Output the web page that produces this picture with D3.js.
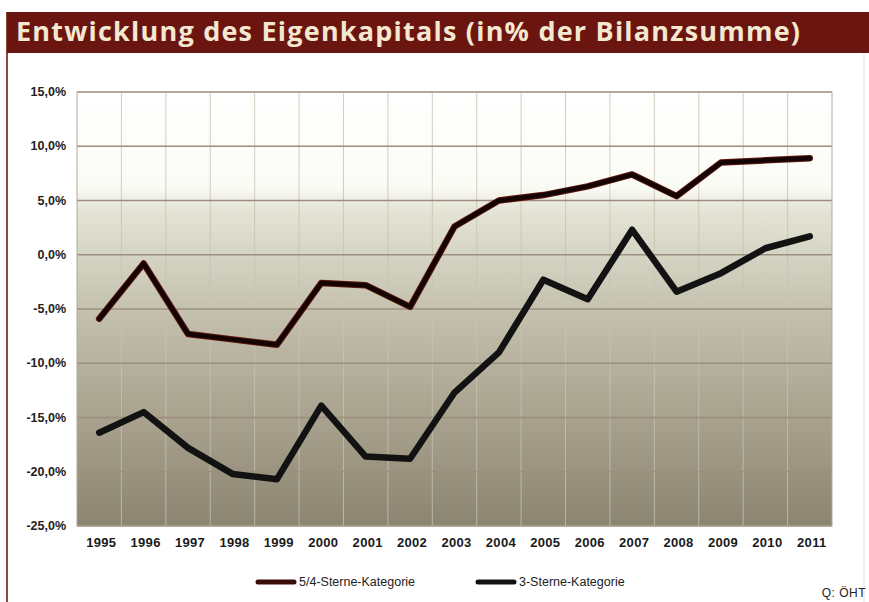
<!DOCTYPE html>
<head>
  <meta charset="utf-8">
  <script src="https://d3js.org/d3.v7.min.js"></script>
  <style>
    body { margin: 0; background: #fff; }
    text { font-family: "Liberation Sans", Arial, sans-serif; }
  </style>
</head>
<body>
<div id="chart"></div>
<script>

// data
var years = ["1995","1996","1997","1998","1999","2000","2001","2002","2003",
             "2004","2005","2006","2007","2008","2009","2010","2011"];
var sterne54 = [-5.9, -0.8, -7.3, -7.8, -8.3, -2.6, -2.8, -4.8, 2.6,
                5.0, 5.5, 6.3, 7.4, 5.4, 8.5, 8.7, 8.9];
var sterne3 = [-16.4, -14.5, -17.8, -20.2, -20.7, -13.9, -18.6, -18.8, -12.7,
               -9.0, -2.3, -4.1, 2.3, -3.4, -1.7, 0.6, 1.7];
var yTicks = [15, 10, 5, 0, -5, -10, -15, -20, -25];
var seriesNames = ["5/4-Sterne-Kategorie", "3-Sterne-Kategorie"];

var W = 869, H = 602;
var margin = {top: 92, right: 37, bottom: 76, left: 77},
    width = W - margin.left - margin.right,
    height = H - margin.top - margin.bottom;

var svg = d3.select("#chart")
  .append("svg")
    .attr("width", W)
    .attr("height", H);

// frame and title bar
svg.append("line")
  .attr("x1", 7).attr("x2", 7).attr("y1", 12).attr("y2", H)
  .style("stroke", "#8a4a35").style("stroke-width", 2);
svg.append("line")
  .attr("x1", 864).attr("x2", 864).attr("y1", 52).attr("y2", H)
  .style("stroke", "#e8ddd0").style("stroke-width", 1);
svg.append("rect")
  .attr("x", 7).attr("y", 12).attr("width", W - 7).attr("height", 41)
  .style("fill", "#6b1510");
svg.append("text")
  .attr("x", 16).attr("y", 41)
  .attr("textLength", 784).attr("lengthAdjust", "spacing")
  .style("font-family", "'Open Sans', sans-serif")
  .style("font-weight", "bold")
  .style("font-size", "27px")
  .style("fill", "#f4e8d0")
  .text("Entwicklung des Eigenkapitals (in% der Bilanzsumme)");

var g = svg.append("g")
  .attr("transform", "translate(" + margin.left + "," + margin.top + ")");

// background gradient
var grad = svg.append("defs").append("linearGradient")
  .attr("id", "bg").attr("x1", 0).attr("x2", 0).attr("y1", 0).attr("y2", 1);
[[0, "#ffffff"], [0.22, "#fbfbf6"], [0.27, "#e4e5d7"], [0.5, "#c4c1ae"],
 [0.75, "#a8a28e"], [1, "#8b8470"]].forEach(function(s) {
  grad.append("stop").attr("offset", s[0]).attr("stop-color", s[1]);
});
g.append("rect")
  .attr("width", width).attr("height", height)
  .style("fill", "url(#bg)");

var x = d3.scaleBand().domain(years).range([0, width]);
var y = d3.scaleLinear().domain([-25, 15]).range([height, 0]);

// vertical grid
g.append("g")
  .selectAll("line")
  .data(years.slice(1))
  .enter()
  .append("line")
    .attr("x1", function(d) { return x(d); })
    .attr("x2", function(d) { return x(d); })
    .attr("y1", 0).attr("y2", height)
    .style("stroke", "#c9c3b3")
    .style("stroke-width", 1)
    .style("opacity", 0.8);

// horizontal grid
g.append("g")
  .selectAll("line")
  .data(yTicks)
  .enter()
  .append("line")
    .attr("x1", 0).attr("x2", width)
    .attr("y1", function(d) { return y(d); })
    .attr("y2", function(d) { return y(d); })
    .style("stroke", "#9c8f7d")
    .style("stroke-width", 1.5);

g.append("rect")
  .attr("width", width).attr("height", height)
  .style("fill", "none").style("stroke", "#b0aa9a").style("stroke-width", 1);

// y axis labels
var fmt = function(d) { return d3.format(".1f")(d).replace(".", ",").replace("−", "-") + "%"; };
g.append("g")
  .selectAll("text")
  .data(yTicks)
  .enter()
  .append("text")
    .attr("x", -11)
    .attr("y", function(d) { return y(d) + 4; })
    .attr("text-anchor", "end")
    .style("font-size", "12.5px")
    .style("font-weight", "bold")
    .style("fill", "#222")
    .text(fmt);

// x axis labels
g.append("g")
  .selectAll("text")
  .data(years)
  .enter()
  .append("text")
    .attr("x", function(d) { return x(d) + x.bandwidth() / 2 + 2; })
    .attr("y", height + 21)
    .attr("text-anchor", "middle")
    .style("font-size", "13px")
    .style("font-weight", "bold")
    .style("letter-spacing", "0.3px")
    .style("fill", "#1a1a1a")
    .text(function(d) { return d; });

// lines
var line = d3.line()
  .x(function(d, i) { return x(years[i]) + x.bandwidth() / 2; })
  .y(function(d) { return y(d); });

g.append("path")
  .datum(sterne54)
  .attr("d", line)
  .style("fill", "none")
  .style("stroke", "#5a150c")
  .style("stroke-width", 6.5)
  .style("stroke-linejoin", "round")
  .style("stroke-linecap", "round");
g.append("path")
  .datum(sterne54)
  .attr("d", line)
  .style("fill", "none")
  .style("stroke", "#140403")
  .style("stroke-width", 4.5)
  .style("stroke-linejoin", "round")
  .style("stroke-linecap", "round");

g.append("path")
  .datum(sterne3)
  .attr("d", line)
  .style("fill", "none")
  .style("stroke", "#121212")
  .style("stroke-width", 6.5)
  .style("stroke-linejoin", "round")
  .style("stroke-linecap", "round");

// legend
var legend = svg.append("g");
var legX = [258, 478], legColors = ["#3a0c06", "#121212"];
seriesNames.forEach(function(name, i) {
  legend.append("line")
    .attr("x1", legX[i]).attr("x2", legX[i] + 36)
    .attr("y1", 582).attr("y2", 582)
    .style("stroke", legColors[i])
    .style("stroke-width", 5)
    .style("stroke-linecap", "round");
  legend.append("text")
    .attr("x", legX[i] + 41).attr("y", 586)
    .style("font-size", "12.5px")
    .style("fill", "#222")
    .text(name);
});

svg.append("text")
  .attr("x", 866).attr("y", 597)
  .attr("text-anchor", "end")
  .style("font-size", "12px")
  .style("letter-spacing", "0.5px")
  .style("fill", "#222")
  .text("Q: ÖHT");

</script>
</body>
